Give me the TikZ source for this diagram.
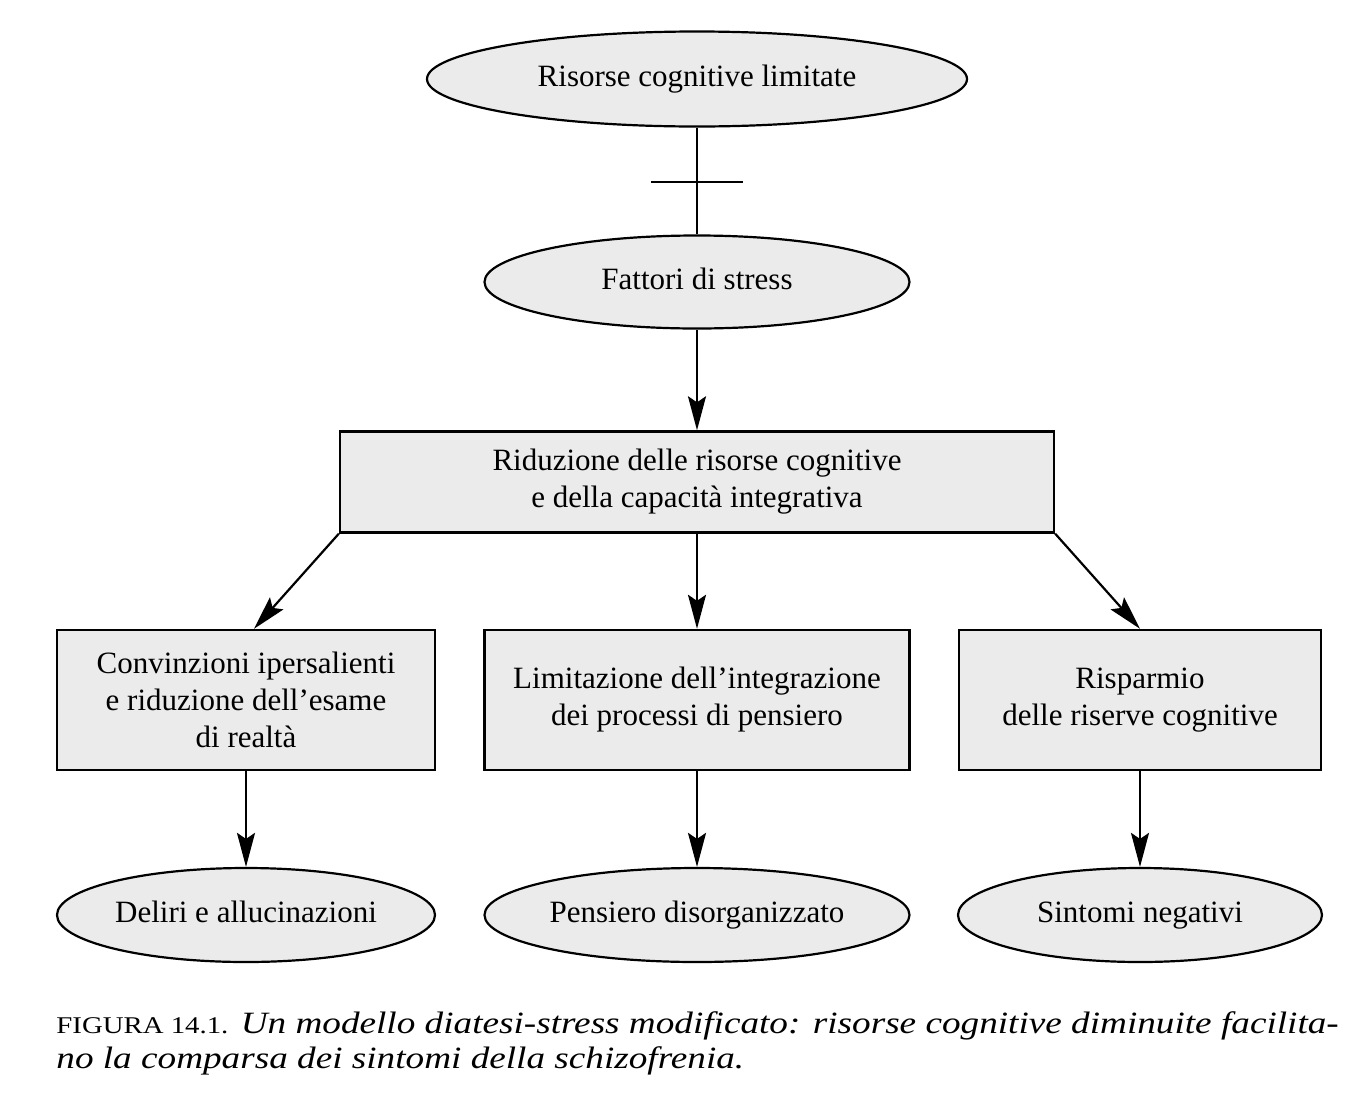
\documentclass[tikz,border=0pt]{standalone}
\usepackage{fontspec}
\setmainfont{Liberation Serif}
\usetikzlibrary{shapes.geometric,arrows.meta}
\definecolor{shade}{HTML}{EBEBEB}
\begin{document}
\begin{tikzpicture}[x=0.5pt,y=-0.5pt,
  txt/.style={font=\fontsize{15.5}{18.5}\selectfont, align=center, inner sep=0pt},
  ell/.style={txt, ellipse, draw, line width=1.1pt, fill=shade, text height=10.5pt, text depth=3.5pt},
  boxn/.style={txt, rectangle, draw, line width=1.2pt, fill=shade},
  conn/.style={line width=1.1pt},
  arr/.style={conn, -{Stealth[length=17pt,width=9pt,inset=3pt]}},
  captxt/.style={anchor=base west, inner sep=0pt, font=\fontsize{15.5}{17.5}\selectfont}]
\useasboundingbox (0,0) rectangle (1356,1120);
\fill[white] (0,0) rectangle (1356,1120);

\node[ell, minimum width=270pt, minimum height=47.5pt] (top) at (697,79) {Risorse cognitive limitate};
\node[ell, minimum width=212.5pt, minimum height=46.5pt] (fat) at (697,282) {Fattori di stress};
\node[boxn, minimum width=357pt, minimum height=50.5pt] (red) at (697,482) {Riduzione delle risorse cognitive\\e della capacità integrativa};

\node[boxn, minimum width=189pt, minimum height=70pt] (lb) at (246,700) {Convinzioni ipersalienti\\e riduzione dell’esame\\di realtà};
\node[boxn, minimum width=212.5pt, minimum height=70pt] (mb) at (697,700) {Limitazione dell’integrazione\\dei processi di pensiero};
\node[boxn, minimum width=181pt, minimum height=70pt] (rb) at (1140,700) {Risparmio\\delle riserve cognitive};

\node[ell, minimum width=189pt, minimum height=47pt] (le) at (246,915) {Deliri e allucinazioni};
\node[ell, minimum width=212.5pt, minimum height=47pt] (me) at (697,915) {Pensiero disorganizzato};
\node[ell, minimum width=182pt, minimum height=47pt] (re) at (1140,915) {Sintomi negativi};

\draw[conn] (top) -- (fat);
\coordinate (cross) at (697,182);
\draw[conn] ([xshift=-23pt]cross) -- ([xshift=23pt]cross);

\draw[arr] (fat) -- (red);
\draw[arr] (red.south west) -- ([xshift=4pt]lb.north);
\draw[arr] (red.south) -- (mb.north);
\draw[arr] (red.south east) -- (rb.north);

\draw[arr] (lb) -- (le);
\draw[arr] (mb) -- (me);
\draw[arr] (rb) -- (re);

\node[captxt] (cap1) at (56,1033)
  {\scalebox{1.2}[1]{{\fontsize{12}{14}\selectfont FIGURA 14.1.} \textit{Un modello diatesi-stress modificato: risorse cognitive diminuite facilita-}}};
\node[captxt] (cap2) at (56,1068)
  {\scalebox{1.2}[1]{\textit{no la comparsa dei sintomi della schizofrenia.}}};
\end{tikzpicture}
\end{document}
